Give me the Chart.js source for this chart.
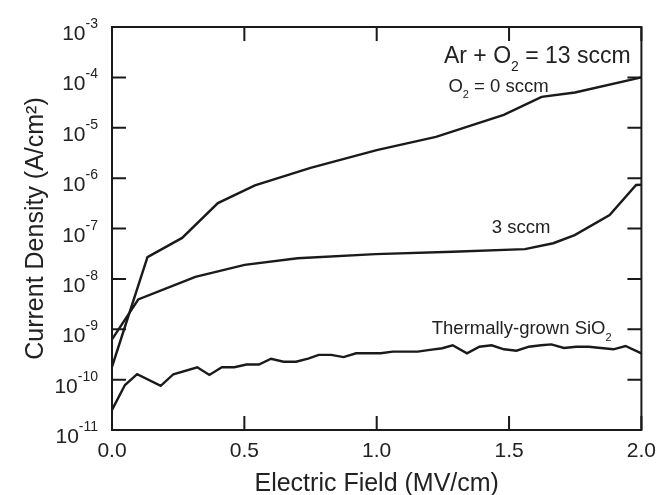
<!DOCTYPE html>
<html>
<head>
<meta charset="utf-8">
<script src="https://cdn.jsdelivr.net/npm/chart.js@4.4.1/dist/chart.umd.min.js"></script>
<style>
  body { margin: 0; background: #fff; }
  canvas { display: block; }
</style>
</head>
<body>
<canvas id="chart" width="665" height="495"></canvas>
<script>
// values: x in MV/cm, y in A/cm^2
const o2ZeroX = [0, 0.134, 0.265, 0.40, 0.54, 0.75, 1.0, 1.224, 1.48, 1.623, 1.749, 2.0];
const o2ZeroY = [1.8e-10, 2.7e-8, 6.5e-8, 3.2e-7, 7.2e-7, 1.6e-6, 3.6e-6, 6.6e-6, 1.8e-5, 4.1e-5, 5.0e-5, 1.0e-4];

const o2ThreeX = [0, 0.099, 0.315, 0.501, 0.701, 0.995, 1.287, 1.56, 1.667, 1.748, 1.88, 1.98, 2.0];
const o2ThreeY = [6.3e-10, 3.9e-9, 1.1e-8, 1.9e-8, 2.56e-8, 3.1e-8, 3.46e-8, 3.9e-8, 5.1e-8, 7.4e-8, 1.85e-7, 7.3e-7, 7.4e-7];

const thermalX = [0, 0.049, 0.095, 0.184, 0.232, 0.322, 0.368, 0.415, 0.462, 0.508, 0.555, 0.601, 0.648, 0.695,
  0.741, 0.781, 0.828, 0.875, 0.922, 0.968, 1.015, 1.061, 1.108, 1.155, 1.201, 1.248, 1.287, 1.341, 1.388,
  1.434, 1.481, 1.528, 1.575, 1.621, 1.660, 1.707, 1.754, 1.801, 1.847, 1.894, 1.940, 2.0];
const thermalY = [2.5e-11, 7.8e-11, 1.28e-10, 7.5e-11, 1.28e-10, 1.76e-10, 1.24e-10, 1.76e-10, 1.76e-10, 2.0e-10,
  2.0e-10, 2.6e-10, 2.27e-10, 2.27e-10, 2.6e-10, 3.1e-10, 3.1e-10, 2.8e-10, 3.33e-10, 3.33e-10, 3.33e-10,
  3.6e-10, 3.6e-10, 3.6e-10, 3.9e-10, 4.2e-10, 4.8e-10, 3.33e-10, 4.5e-10, 4.8e-10, 4.0e-10, 3.75e-10,
  4.5e-10, 4.8e-10, 5.0e-10, 4.25e-10, 4.5e-10, 4.5e-10, 4.25e-10, 4.0e-10, 4.65e-10, 3.33e-10];

const xTicks = [0, 0.5, 1.0, 1.5, 2.0];
const xTickLabels = ['0.0', '0.5', '1.0', '1.5', '2.0'];
const yTicks = [1e-11, 1e-10, 1e-9, 1e-8, 1e-7, 1e-6, 1e-5, 1e-4, 1e-3];
const yTickExps = ['-11', '-10', '-9', '-8', '-7', '-6', '-5', '-4', '-3'];

// in-plot labels, anchored in data units (left edge, baseline)
const notes = [
  { parts: [['Ar + O', 'n'], ['2', 'sub'], [' = 13 sccm', 'n']], x: 1.254, y: 1.93e-4, size: 23 },
  { parts: [['O', 'n'], ['2', 'sub'], [' = 0 sccm', 'n']], x: 1.271, y: 5.2e-5, size: 18.5 },
  { parts: [['3 sccm', 'n']], x: 1.435, y: 8.0e-8, size: 18.5 },
  { parts: [['Thermally-grown SiO', 'n'], ['2', 'sub']], x: 1.208, y: 8.05e-10, size: 18.5 }
];

const FONT = '"Liberation Sans", Arial, sans-serif';
const INK = '#1a1a1a';
const TICK = 14;

const toPoints = (xs, ys) => xs.map((x, i) => ({ x: x, y: ys[i] }));

const drawParts = (ctx, parts, x, y, size) => {
    let cx = x;
    parts.forEach(([text, kind]) => {
        if (kind === 'n') {
            ctx.font = size + 'px ' + FONT;
            ctx.fillText(text, cx, y);
        } else {
            const s = Math.round(size * 0.6);
            ctx.font = s + 'px ' + FONT;
            ctx.fillText(text, cx, y + (kind === 'sub' ? size * 0.36 : -size * 0.55));
        }
        cx += ctx.measureText(text).width;
    });
};

const frameTicks = {
    id: 'frameTicks',
    afterDatasetsDraw(chart) {
        const { ctx, chartArea: a, scales: { x, y } } = chart;
        ctx.save();
        ctx.strokeStyle = INK;
        ctx.lineWidth = 2;
        ctx.beginPath();
        xTicks.forEach(v => {
            const px = x.getPixelForValue(v);
            ctx.moveTo(px, a.bottom); ctx.lineTo(px, a.bottom - TICK);
            ctx.moveTo(px, a.top); ctx.lineTo(px, a.top + TICK);
        });
        yTicks.forEach(v => {
            const py = y.getPixelForValue(v);
            ctx.moveTo(a.left, py); ctx.lineTo(a.left + TICK, py);
            ctx.moveTo(a.right, py); ctx.lineTo(a.right - TICK, py);
        });
        ctx.stroke();
        ctx.strokeRect(a.left, a.top, a.right - a.left, a.bottom - a.top);

        // y tick labels as 10 with a raised exponent
        ctx.fillStyle = '#222';
        ctx.textBaseline = 'alphabetic';
        ctx.textAlign = 'right';
        const right = a.left - 14;
        yTicks.forEach((v, i) => {
            const py = y.getPixelForValue(v);
            ctx.font = '14px ' + FONT;
            const w = ctx.measureText(yTickExps[i]).width;
            ctx.fillText(yTickExps[i], right, py + 1);
            ctx.font = '21px ' + FONT;
            ctx.fillText('10', right - w, py + 13);
        });

        ctx.textAlign = 'left';
        notes.forEach(n => {
            drawParts(ctx, n.parts, x.getPixelForValue(n.x), y.getPixelForValue(n.y), n.size);
        });
        ctx.restore();
    }
};

const line = (data) => ({
    data: data,
    borderColor: INK,
    borderWidth: 2.4,
    pointRadius: 0,
    tension: 0,
    fill: false
});

onload = () => {
    new Chart(document.getElementById('chart'), {
        type: 'line',
        data: {
            datasets: [
                line(toPoints(o2ZeroX, o2ZeroY)),
                line(toPoints(o2ThreeX, o2ThreeY)),
                line(toPoints(thermalX, thermalY))
            ]
        },
        options: {
            responsive: false,
            animation: false,
            layout: { padding: { left: 0, top: 27, right: 17, bottom: 0 } },
            plugins: { legend: { display: false }, tooltip: { enabled: false } },
            scales: {
                x: {
                    type: 'linear',
                    min: 0,
                    max: 2,
                    afterBuildTicks: s => { s.ticks = xTicks.map(v => ({ value: v })); },
                    afterFit: s => { s.height = 65; },
                    grid: { display: false, drawTicks: false },
                    border: { display: false },
                    ticks: {
                        autoSkip: false,
                        maxRotation: 0,
                        padding: 9,
                        color: '#222',
                        font: { family: FONT, size: 21 },
                        callback: (v, i) => xTickLabels[i]
                    },
                    title: {
                        display: true,
                        text: 'Electric Field (MV/cm)',
                        color: '#222',
                        font: { family: FONT, size: 25, lineHeight: 0.9 },
                        padding: { top: 0, bottom: 0 }
                    }
                },
                y: {
                    type: 'logarithmic',
                    min: 1e-11,
                    max: 1e-3,
                    afterBuildTicks: s => { s.ticks = yTicks.map(v => ({ value: v })); },
                    afterFit: s => { s.width = 112; },
                    grid: { display: false, drawTicks: false },
                    border: { display: false },
                    ticks: { display: false },
                    title: {
                        display: true,
                        text: 'Current Density (A/cm²)',
                        color: '#222',
                        font: { family: FONT, size: 25, lineHeight: 0.9 },
                        padding: { top: 25, bottom: 0 }
                    }
                }
            }
        },
        plugins: [frameTicks]
    });
}
</script>
</body>
</html>
